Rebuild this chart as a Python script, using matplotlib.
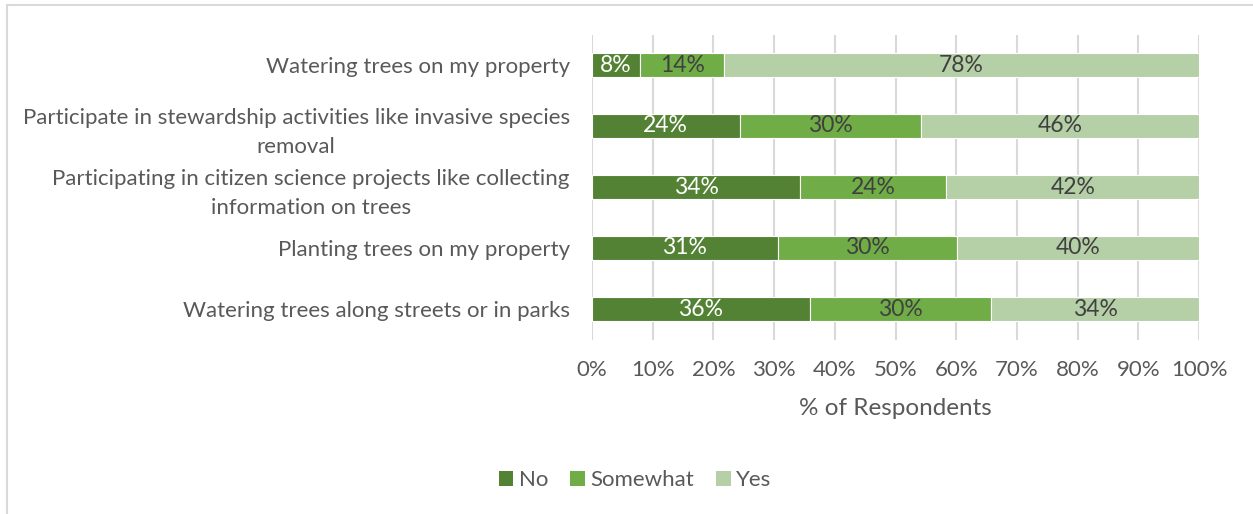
import numpy as np
import matplotlib.pyplot as plt
from matplotlib.patches import Patch

plt.rcParams['font.family'] = ['Lato', 'DejaVu Sans']

# survey answers, top row first
activities = [
    "Watering trees on my property",
    "Participate in stewardship activities like invasive species\nremoval",
    "Participating in citizen science projects like collecting\ninformation on trees",
    "Planting trees on my property",
    "Watering trees along streets or in parks",
]
no_pct = [7.9, 24.3, 34.3, 30.6, 35.9]
somewhat_pct = [13.9, 29.9, 24.1, 29.6, 29.9]
yes_pct = [78.2, 45.8, 41.6, 39.8, 34.2]

answers = ["No", "Somewhat", "Yes"]
colors = ["#548235", "#70AD47", "#B5CFA7"]
label_colors = ["white", "#404040", "#404040"]
grey = "#595959"
fs = 16

fig = plt.figure(figsize=(12.53, 5.14), dpi=100)
fig.patch.set_facecolor('white')

# outer chart frame (top and left edges only)
fig.add_artist(plt.Line2D([7/1253, 1], [1-5/514, 1-5/514], color="#D9D9D9", lw=1.5))
fig.add_artist(plt.Line2D([7/1253, 7/1253], [0, 1-5/514], color="#D9D9D9", lw=1.5))

ax = fig.add_axes([592/1253, 1-339.5/514, 607/1253, 305/514])

y = np.arange(len(activities))
left = np.zeros(len(activities))
for name, vals, c, lc in zip(answers, [no_pct, somewhat_pct, yes_pct], colors, label_colors):
    vals = np.array(vals)
    ax.barh(y, vals, left=left, height=0.4, color=c, edgecolor='white', linewidth=0.8, zorder=3)
    for yi, l, v in zip(y, left, vals):
        ax.text(l + v/2, yi, f"{v:.0f}%", ha='center', va='center', color=lc, fontsize=fs+0.5, zorder=4)
    left += vals

ax.set_xlim(0, 100)
ax.set_ylim(len(activities) - 0.5, -0.5)
ax.set_xticks(np.arange(0, 101, 10))
ax.set_xticklabels([f"{t}%" for t in range(0, 101, 10)])
ax.set_yticks(y)
ax.set_yticklabels(activities, multialignment='center', linespacing=1.55)
ax.tick_params(axis='both', length=0, labelsize=fs, colors=grey)
ax.tick_params(axis='x', pad=15)
ax.tick_params(axis='y', pad=16)
ax.grid(axis='x', color="#D9D9D9", lw=1.5, zorder=0)
for s in ax.spines.values():
    s.set_visible(False)
ax.set_xlabel("% of Respondents", fontsize=17.5, color=grey, labelpad=13)

handles = [Patch(facecolor=c, label=n) for n, c in zip(answers, colors)]
fig.legend(handles=handles, loc='center', bbox_to_anchor=(0.507, 1-480/514), ncol=3,
           frameon=False, fontsize=fs, labelcolor=grey, handlelength=0.65, handleheight=0.65,
           handletextpad=0.25, columnspacing=1.0)

fig.savefig("out.png", dpi=100)
